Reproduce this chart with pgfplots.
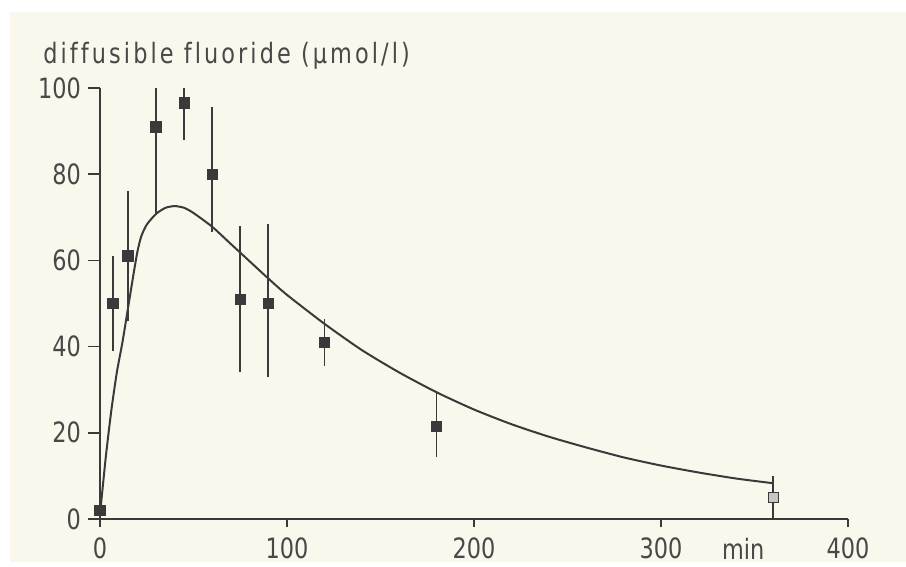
\documentclass[border=0pt]{standalone}
\usepackage{fontspec}
\setmainfont{DejaVu Sans}[FakeStretch=0.8]
\newfontfamily\labelfont{DejaVu Sans}[FakeStretch=0.8, LetterSpace=11, Ligatures={NoCommon}]
\usepackage{pgfplots}
\usepackage{pgfplotstable}
\pgfplotsset{compat=1.18}
\definecolor{bg}{RGB}{250,248,237}
\definecolor{ink}{RGB}{58,58,58}
\definecolor{txt}{RGB}{72,72,72}

\pgfplotstableread{
t    c     ep    em
0    2     0     0
7    50    11    11
15   61    15    15
30   91    9     20
45   96.5  3.5   8.5
60   80    15.5  13.5
75   51    17    17
90   50    18.5  17
120  41    5.5   5.5
180  21.5  8     7
}\measured

\pgfplotstableread{
t    c     ep    em
360  5     5     5
}\last

\pgfplotstableread{
t    c
0    1
3    14
6    25
9    34
12   41
15   49
18   57
20   62
22   65.5
25   68.3
30   70.8
35   72.2
40   72.6
45   72.2
50   71.0
60   67.8
70   63.8
80   59.8
90   55.8
100  52.0
120  45.3
140  39.2
160  34.0
180  29.4
200  25.4
220  22.0
240  19.1
260  16.6
280  14.3
300  12.4
320  10.8
340  9.4
360  8.3
}\fit

\begin{document}
\begin{tikzpicture}
\fill[white] (0,0) rectangle (453pt,281pt);
\fill[bg] (5pt,0) rectangle (453pt,275pt);
\begin{axis}[
  name=ax,
  at={(50pt,21.5pt)}, anchor=south west,
  width=374pt, height=215.5pt, scale only axis,
  xmin=0, xmax=400, ymin=0, ymax=100,
  clip=false,
  axis lines=left,
  axis line style={-, ink, line width=1pt},
  xtick={0,100,200,300,400},
  ytick={0,20,40,60,80,100},
  extra x ticks={344},
  extra x tick labels={min},
  extra x tick style={major tick style={draw=none}},
  tick align=outside,
  major tick length=6pt,
  xtick style={ink, line width=0.8pt, /pgfplots/major tick length=4pt},
  ytick style={ink, line width=0.8pt},
  tick label style={txt, font=\fontsize{14}{16}\selectfont},
  /pgf/number format/assume math mode=true,
]
\addplot[ink, line width=1pt, smooth, tension=0.4] table[x=t, y=c] {\fit};
\addplot[only marks, mark=square*, mark size=2.6pt, ink,
  mark options={fill=ink},
  error bars/.cd, y dir=both, y explicit, error mark=none,
  error bar style={ink, line width=0.8pt}]
  table[x=t, y=c, y error plus=ep, y error minus=em] {\measured};
\addplot[only marks, mark=square*, mark size=2.4pt, ink,
  mark options={fill=gray!45},
  error bars/.cd, y dir=both, y explicit, error mark=none,
  error bar style={ink, line width=0.8pt}]
  table[x=t, y=c, y error plus=ep, y error minus=em] {\last};
\end{axis}
\node[anchor=base west, txt, font=\labelfont\fontsize{14}{16}\selectfont, inner sep=0pt]
  at ([xshift=-28.5pt,yshift=12.5pt]ax.north west) {diffusible fluoride (µmol/l)};
\end{tikzpicture}
\end{document}
